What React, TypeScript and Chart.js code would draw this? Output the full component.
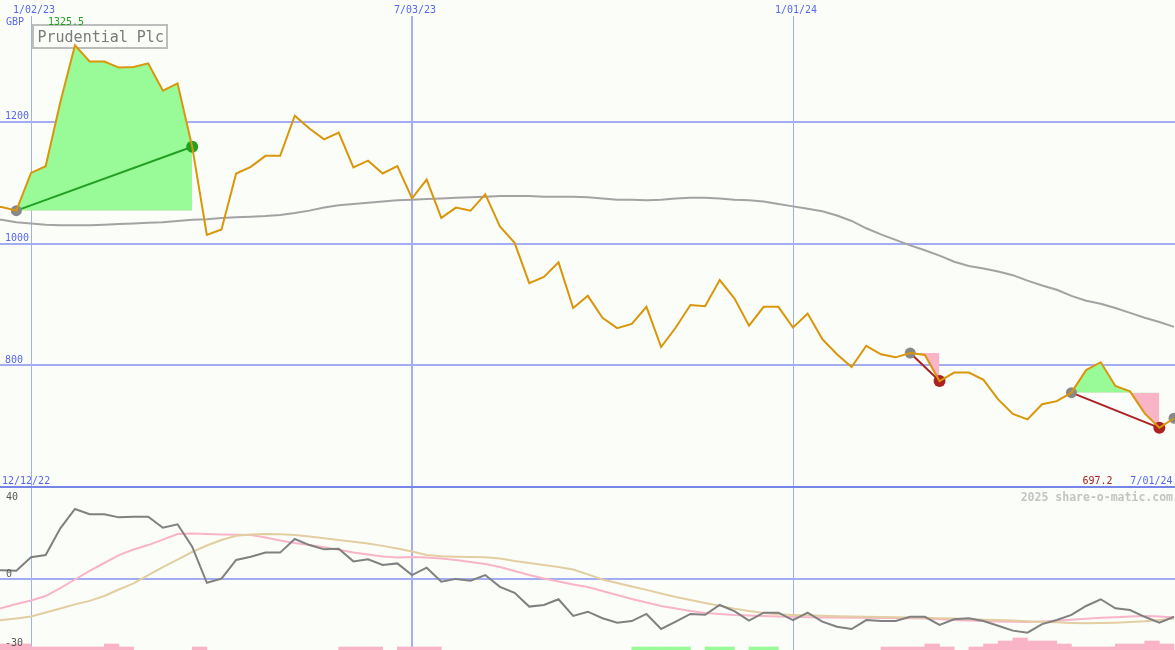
import React, { useEffect, useRef } from 'react';
import { Chart, registerables } from 'chart.js';

Chart.register(...registerables);

// ---------------- data ----------------
// week index: 0 = 1/02/23, one step = one week
const firstWeek = -3; // 12/12/22
const tickWeeks = [0, 26, 52];
const tickLabels = ['1/02/23', '7/03/23', '1/01/24'];
const startLabel = '12/12/22';
const endLabel = '7/01/24';
const stockName = 'Prudential Plc';
const currency = 'GBP';
const priceTicks = [1200, 1000, 800];
const oscTicks = ['40', '0', '-30'];

const price = [
  1058, 1060, 1054, 1116, 1127, 1232, 1325.5, 1299, 1299, 1289,
  1290, 1296, 1251, 1263, 1159, 1014, 1023, 1115, 1126, 1144,
  1144, 1210, 1189, 1171, 1182, 1125, 1136, 1115, 1127, 1074,
  1105, 1042, 1059, 1054, 1081, 1028, 1001, 935, 945, 969,
  894, 914, 878, 861, 868, 896, 830, 862, 899, 897,
  940, 910, 865, 896, 896, 862, 885, 843, 818, 797,
  832, 818, 813, 820, 817, 774, 788, 788, 776, 744,
  720, 711, 736, 741, 755, 792, 805, 766, 757, 721,
  697.2, 713,
];

const movingAverage = [
  1040, 1039, 1035, 1033, 1031, 1030, 1030, 1030, 1031, 1032,
  1033, 1034, 1035, 1037, 1039, 1040, 1042, 1043, 1044, 1045,
  1047, 1050, 1054, 1059, 1063, 1065, 1067, 1069, 1071, 1072,
  1073, 1074, 1075, 1076, 1077, 1078, 1078, 1078, 1077, 1077,
  1077, 1076, 1074, 1072, 1072, 1071, 1072, 1074, 1075, 1075,
  1074, 1072, 1071, 1069, 1065, 1061, 1057, 1053, 1046, 1037,
  1025, 1015, 1006, 997, 989, 980, 970, 963, 959, 954,
  948, 939, 931, 924, 914, 906, 901, 894, 886, 878,
  871, 863,
];

const oscillator = [
  4, 4.2, 3.9, 10.5, 11.6, 24.7, 34.2, 31.6, 31.6, 30.1,
  30.4, 30.4, 25, 26.7, 15.7, -2, 0, 9.2, 10.8, 12.8,
  12.8, 19.5, 16.5, 14.4, 14.7, 8.5, 9.5, 6.7, 7.5, 1.8,
  5.4, -1.5, -0.1, -1, 1.8, -4, -6.9, -13.7, -12.9, -10.1,
  -18.3, -16.2, -19.4, -21.6, -20.8, -17.3, -24.7, -21.1, -17.3, -17.7,
  -12.9, -15.9, -20.6, -16.7, -16.7, -20.3, -16.7, -21.1, -23.6, -24.7,
  -20.3, -20.8, -20.8, -18.7, -18.7, -22.7, -19.9, -19.4, -20.8, -23.1,
  -25.5, -26.5, -22.3, -20.3, -17.8, -13.4, -10.1, -14.5, -15.4, -18.7,
  -21.6, -18.7,
];

const oscSignal = [
  -15.9, -14.4, -12.4, -10.7, -8.5, -4.6, -0.4, 3.8, 7.7, 11.6,
  14.3, 16.5, 19.2, 21.9, 22.2, 21.9, 21.7, 21.6, 21.4, 20.2,
  18.7, 17.5, 16.5, 15.4, 14.2, 12.9, 11.9, 10.9, 10.4, 10.6,
  10.4, 9.9, 9.2, 8.2, 7.2, 5.7, 3.8, 1.8, 0.1, -1.4,
  -2.9, -4.1, -6, -8, -10, -11.7, -13.4, -14.6, -15.9, -16.8,
  -17.3, -17.8, -18.1, -18.3, -18.6, -18.7, -18.9, -19, -19.1, -19.2,
  -19.2, -19.3, -19.3, -19.4, -19.5, -19.9, -20.3, -20.5, -20.8, -21,
  -21.1, -21.2, -21, -20.7, -20.2, -19.7, -19.2, -18.9, -18.6, -18.3,
  -18.6, -19.1,
];

const oscSlow = [
  -21.7, -20.3, -19.5, -18.6, -16.6, -14.6, -12.6, -10.9, -8.5, -5.3,
  -2.3, 1.8, 5.7, 9.4, 13.1, 16.3, 19, 21.1, 21.7, 21.9,
  21.8, 21.5, 20.7, 19.8, 19, 18.1, 17.3, 16.1, 14.8, 13.3,
  11.6, 11, 10.8, 10.6, 10.5, 9.9, 8.7, 7.7, 6.7, 5.7,
  4.5, 2.1, -0.4, -2.1, -3.8, -5.5, -7.3, -9, -10.5, -11.9,
  -13.3, -14.7, -15.9, -16.8, -17.5, -17.8, -18, -18.2, -18.4, -18.6,
  -18.7, -18.8, -18.9, -19, -19.2, -19.4, -19.6, -19.8, -20.1, -20.3,
  -20.5, -20.9, -21.2, -21.4, -21.7, -21.9, -21.8, -21.6, -21.3, -20.9,
  -20.3, -19.6,
];

// signed bar levels (negative = pink, positive = green)
const histLevels = [
  -2, -2, -2, -1, -1, -1, -1, -1, -2, -1,
  0, 0, 0, 0, -1, 0, 0, 0, 0, 0,
  0, 0, 0, 0, -1, -1, -1, 0, -1, -1,
  -1, 0, 0, 0, 0, 0, 0, 0, 0, 0,
  0, 0, 0, 0, 1, 1, 1, 1, 0, 1,
  1, 0, 1, 1, 0, 0, 0, 0, 0, 0,
  0, -1, -1, -1, -2, -1, 0, -1, -2, -3,
  -4, -3, -3, -2, -1, -1, -1, -2, -2, -3,
  -2, 0,
];

const tradeEntryWeeks = [-1, 60, 71, 78];
const tradeExitWeeks = [11, 62, 77];

// ---------------- layout / style ----------------
const W = 1175;
const H = 650;
const PLOT_TOP = 16;
const SPLIT = 487;
const UPPER_TOP = 1400; // price at y = 0
const UPPER_BOTTOM = 600; // price at y = SPLIT
const LOWER_TOP = 45; // oscillator at y = SPLIT
const LOWER_BOTTOM = -35; // oscillator at y = H
const X_MIN = -2.1155;
const X_MAX = 78.068;
const HIST_PX = 3;

const BG = '#fbfdf9';
const GRID = '#a3adf2';
const DIVIDER = '#7585e8';
const BLUE_TXT = '#5866ee';
const ORANGE = '#d9960b';
const MA_GREY = '#a3a3a3';
const OSC_GREY = '#808080';
const PINK_LINE = '#f8b4c8';
const TAN_LINE = '#e2cea1';
const GREEN_FILL = '#98fb98';
const PINK_FILL = '#f9b4c8';
const ENTRY_DOT = '#888888';
const WIN = '#22a022';
const LOSS = '#aa2222';
const MONO = '"DejaVu Sans Mono", "Liberation Mono", monospace';

const pricePerPx = (UPPER_TOP - UPPER_BOTTOM) / SPLIT;
const oscPerPx = (LOWER_TOP - LOWER_BOTTOM) / (H - SPLIT);

const weekAt = (i: number) => firstWeek + i;
const priceAt = (w: number) => price[w - firstWeek];
const pts = (arr: number[]) => arr.map((v, i) => ({ x: weekAt(i), y: v }));

function buildDatasets(): any[] {
  const ds: any[] = [];
  ds.push({
    type: 'line', label: 'price', data: pts(price), yAxisID: 'yPrice',
    borderColor: ORANGE, borderWidth: 2, pointRadius: 0, tension: 0, fill: false, order: 0,
  });
  tradeExitWeeks.forEach((exit, t) => {
    const entry = tradeEntryWeeks[t];
    const win = priceAt(exit) >= priceAt(entry);
    ds.push({
      type: 'line', label: 'fill' + t, yAxisID: 'yPrice',
      data: pts(price).filter((p) => p.x >= entry && p.x <= exit),
      borderColor: 'rgba(0,0,0,0)', borderWidth: 0, pointRadius: 0, tension: 0,
      fill: { target: { value: priceAt(entry) }, above: GREEN_FILL, below: PINK_FILL },
      order: 3,
    });
    ds.push({
      type: 'line', label: 'trade' + t, yAxisID: 'yPrice',
      data: [{ x: entry, y: priceAt(entry) }, { x: exit, y: priceAt(exit) }],
      borderColor: win ? WIN : LOSS, borderWidth: 2, pointRadius: 0, tension: 0, fill: false,
      order: 2,
    });
  });
  ds.push({
    type: 'line', label: 'entries', yAxisID: 'yPrice', showLine: false,
    data: tradeEntryWeeks.map((w) => ({ x: w, y: priceAt(w) })),
    pointRadius: 5.5, pointBorderWidth: 0, pointBackgroundColor: ENTRY_DOT,
    pointBorderColor: ENTRY_DOT, fill: false, order: 1,
  });
  ds.push({
    type: 'line', label: 'exits', yAxisID: 'yPrice', showLine: false,
    data: tradeExitWeeks.map((w) => ({ x: w, y: priceAt(w) })),
    pointRadius: 6, pointBorderWidth: 0,
    pointBackgroundColor: tradeExitWeeks.map((w, t) => (priceAt(w) >= priceAt(tradeEntryWeeks[t]) ? WIN : LOSS)),
    pointBorderColor: 'rgba(0,0,0,0)', fill: false, order: 1,
  });
  ds.push({
    type: 'line', label: 'ma', data: pts(movingAverage), yAxisID: 'yPrice',
    borderColor: MA_GREY, borderWidth: 2, pointRadius: 0, tension: 0, fill: false, order: 4,
  });
  ds.push({
    type: 'line', label: 'osc', data: pts(oscillator), yAxisID: 'yOsc',
    borderColor: OSC_GREY, borderWidth: 2, pointRadius: 0, tension: 0, fill: false, order: 0,
  });
  ds.push({
    type: 'line', label: 'signal', data: pts(oscSignal), yAxisID: 'yOsc',
    borderColor: PINK_LINE, borderWidth: 2, pointRadius: 0, tension: 0, fill: false, order: 2,
  });
  ds.push({
    type: 'line', label: 'slow', data: pts(oscSlow), yAxisID: 'yOsc',
    borderColor: TAN_LINE, borderWidth: 2, pointRadius: 0, tension: 0, fill: false, order: 1,
  });
  const bars = histLevels
    .map((v, i) => ({ x: weekAt(i) + 0.5, y: Math.abs(v), s: v }))
    .filter((b) => b.s !== 0);
  ds.push({
    type: 'bar', label: 'hist', data: bars, yAxisID: 'yHist',
    backgroundColor: bars.map((b) => (b.s > 0 ? GREEN_FILL : PINK_FILL)),
    borderWidth: 0, barPercentage: 1, categoryPercentage: 1, order: 5,
  });
  return ds;
}

function text(ctx: CanvasRenderingContext2D, s: string, x: number, y: number, color: string, font: string, align: CanvasTextAlign = 'left') {
  ctx.save();
  ctx.font = font;
  ctx.fillStyle = color;
  ctx.textAlign = align;
  ctx.textBaseline = 'alphabetic';
  ctx.fillText(s, x, y);
  ctx.restore();
}

const decorations = {
  id: 'decorations',
  beforeDraw(chart: any) {
    const ctx = chart.ctx;
    ctx.save();
    ctx.fillStyle = BG;
    ctx.fillRect(0, 0, chart.width, chart.height);
    ctx.restore();
  },
  beforeDatasetsDraw(chart: any) {
    const ctx = chart.ctx as CanvasRenderingContext2D;
    ctx.save();
    ctx.strokeStyle = '#bdbdbd';
    ctx.lineWidth = 2;
    ctx.strokeRect(33, 25, 134, 23);
    ctx.restore();
    text(ctx, stockName, 37.5, 41.6, '#7a7a7a', `15px ${MONO}`);
  },
  afterDraw(chart: any) {
    const ctx = chart.ctx as CanvasRenderingContext2D;
    const xs = chart.scales.x;
    const yp = chart.scales.yPrice;
    const small = `10px ${MONO}`;
    tickWeeks.forEach((w, i) => {
      text(ctx, tickLabels[i], xs.getPixelForValue(w) + 3, 13.3, BLUE_TXT, small, 'center');
    });
    text(ctx, currency, 6, 25, BLUE_TXT, small);
    text(ctx, Math.max(...price).toFixed(1), 48, 25, WIN, small);
    priceTicks.forEach((v) => {
      text(ctx, String(v), 5, yp.getPixelForValue(v) - 2.5, BLUE_TXT, small);
    });
    text(ctx, startLabel, 2, 483.5, BLUE_TXT, small);
    text(ctx, Math.min(...price).toFixed(1), 1112.5, 483.5, LOSS, small, 'right');
    text(ctx, endLabel, 1172.5, 483.5, BLUE_TXT, small, 'right');
    text(ctx, '2025 share-o-matic.com', 1173, 500.5, '#c4c4c4', `bold 11.5px ${MONO}`, 'right');
    const oscLabelPos = [[6, 499.5], [6, 576.8], [5, 645.8]];
    oscTicks.forEach((s, i) => {
      text(ctx, s, oscLabelPos[i][0], oscLabelPos[i][1], '#585858', small);
    });
  },
};

export default function App() {
  const ref = useRef<HTMLCanvasElement>(null);
  useEffect(() => {
    document.body.style.margin = '0';
    const canvas = ref.current;
    if (!canvas) return;
    const chart = new Chart(canvas, {
      type: 'line',
      data: { datasets: buildDatasets() },
      options: {
        responsive: false,
        animation: false,
        devicePixelRatio: 1,
        events: [],
        layout: { padding: { top: PLOT_TOP, left: 0, right: 0, bottom: 0 }, autoPadding: false },
        plugins: { legend: { display: false }, tooltip: { enabled: false }, title: { display: false } },
        scales: {
          x: {
            type: 'linear', min: X_MIN, max: X_MAX, offset: false, position: 'bottom',
            ticks: { display: false },
            border: { display: false },
            grid: {
              offset: false, drawTicks: false, color: GRID,
              lineWidth: (c: any) => (c.index === 1 ? 2 : 1),
            },
            afterBuildTicks: (axis: any) => { axis.ticks = tickWeeks.map((v) => ({ value: v })); },
          },
          yPrice: {
            type: 'linear', position: 'left',
            min: UPPER_TOP - H * pricePerPx, max: UPPER_TOP - PLOT_TOP * pricePerPx,
            ticks: { display: false }, border: { display: false },
            grid: { drawTicks: false, color: GRID, lineWidth: 2 },
            afterBuildTicks: (axis: any) => { axis.ticks = priceTicks.map((v) => ({ value: v })); },
          },
          yOsc: {
            type: 'linear', position: 'left',
            min: LOWER_BOTTOM, max: LOWER_TOP + (SPLIT - PLOT_TOP) * oscPerPx,
            ticks: { display: false }, border: { display: false },
            grid: {
              drawTicks: false, lineWidth: 2,
              color: (c: any) => (c.tick && c.tick.value === LOWER_TOP ? DIVIDER : GRID),
            },
            afterBuildTicks: (axis: any) => { axis.ticks = [0, LOWER_TOP].map((v) => ({ value: v })); },
          },
          yHist: {
            type: 'linear', display: false, min: 0, max: (H - PLOT_TOP) / HIST_PX,
          },
        },
      } as any,
      plugins: [decorations],
    } as any);
    return () => chart.destroy();
  }, []);
  return (
    <div style={{ width: W, height: H }}>
      <canvas ref={ref} width={W} height={H} style={{ display: 'block', width: W, height: H }} />
    </div>
  );
}
